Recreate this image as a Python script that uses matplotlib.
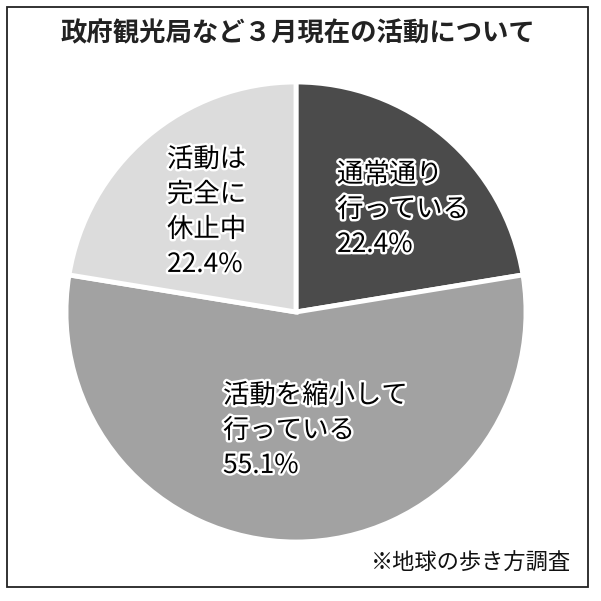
import matplotlib.pyplot as plt
import matplotlib.patheffects as pe
from matplotlib.patches import Rectangle

plt.rcParams['font.family'] = ['Noto Sans CJK JP', 'DejaVu Sans']

title = '政府観光局など３月現在の活動について'
source = '※地球の歩き方調査'
labels = ['通常通り\n行っている', '活動を縮小して\n行っている', '活動は\n完全に\n休止中']
values = [22.4, 55.1, 22.4]
colors = ['#4b4b4b', '#a2a2a2', '#dcdcdc']

W = 601
fig = plt.figure(figsize=(6.01, 6.01), dpi=100)
fig.patch.set_facecolor('white')

# frame
fig.add_artist(Rectangle((7 / W, 14 / W), 581 / W, 580 / W, transform=fig.transFigure,
                         fill=False, edgecolor='#222222', linewidth=1.3))

cx, cy, r = 296, 312, 230
ax = fig.add_axes([(cx - r) / W, (W - cy - r) / W, 2 * r / W, 2 * r / W])
ax.pie(values, colors=colors, startangle=90, counterclock=False,
       wedgeprops=dict(edgecolor='white', linewidth=3.5))
ax.set_xlim(-1, 1)
ax.set_ylim(-1, 1)
ax.set_aspect('equal')
ax.axis('off')

halo = [pe.withStroke(linewidth=3.5, foreground='white')]
label_pos = [(337, 161), (223, 382), (167, 146)]
for lab, v, (px, py) in zip(labels, values, label_pos):
    fig.text(px / W, 1 - py / W, f'{lab}\n{v}%', ha='left', va='top',
             fontsize=19, linespacing=1.38, color='black', path_effects=halo)

fig.text(298 / W, 1 - 34 / W, title, ha='center', va='center', fontsize=19,
         fontweight='bold', color='#222222')
fig.text(571 / W, 1 - 563 / W, source, ha='right', va='center', fontsize=16,
         color='#111111')

fig.savefig('out.png', dpi=100, facecolor='white')
